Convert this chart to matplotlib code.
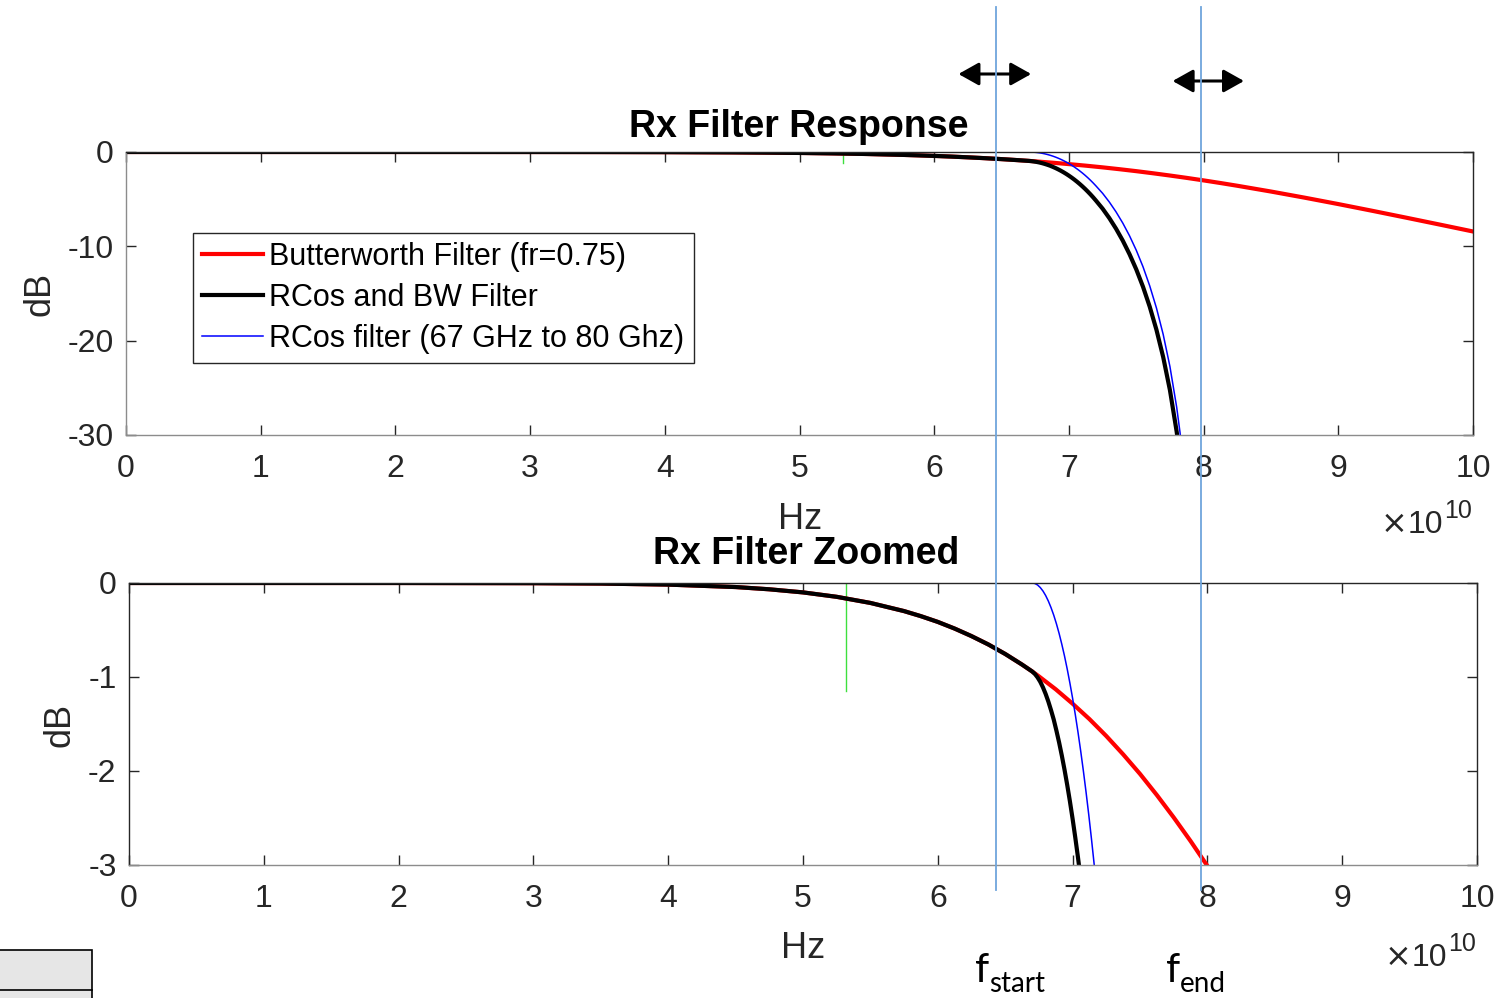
import matplotlib
matplotlib.use('Agg')
import matplotlib.pyplot as plt
import matplotlib.transforms as mtransforms
from matplotlib.patches import Rectangle
from matplotlib.lines import Line2D

plt.rcParams['font.family'] = ['Liberation Sans', 'DejaVu Sans']
plt.rcParams['axes.unicode_minus'] = False

W, H = 1499, 998

# frequencies in units of 1e10 Hz, responses in dB
bw_freq = [0, 1, 2, 3, 3.5, 4, 4.5, 4.75, 5, 5.25, 5.5, 5.75, 5.875, 6, 6.125,
           6.25, 6.375, 6.5, 6.625, 6.7, 6.75, 6.875, 7, 7.125, 7.25, 7.375,
           7.5, 7.625, 7.75, 7.875, 8, 8.125, 8.25, 8.5, 8.75, 9, 9.25, 9.5,
           9.75, 10]
bw_db = [0, 0, -0.0001, -0.002, -0.006, -0.017, -0.043, -0.067, -0.10, -0.147,
         -0.212, -0.299, -0.353, -0.414, -0.485, -0.565, -0.654, -0.755, -0.868,
         -0.941, -0.993, -1.131, -1.284, -1.448, -1.628, -1.823, -2.031, -2.256,
         -2.494, -2.745, -3.010, -3.288, -3.578, -4.190, -4.841, -5.521, -6.227,
         -6.951, -7.685, -8.426]

rcos_freq = [0, 6.70, 6.72, 6.74, 6.76, 6.78, 6.80, 6.82, 6.84, 6.86, 6.88,
             6.90, 6.92, 6.94, 6.96, 6.98, 7.00, 7.02, 7.04, 7.06, 7.08, 7.10,
             7.12, 7.14, 7.16, 7.18, 7.20, 7.25, 7.30, 7.35, 7.40, 7.45, 7.50,
             7.55, 7.60, 7.65, 7.70, 7.75, 7.80, 7.825, 7.85]
rcos_db = [0, 0, -0.005, -0.021, -0.048, -0.085, -0.133, -0.192, -0.262, -0.342,
           -0.434, -0.537, -0.652, -0.777, -0.915, -1.065, -1.226, -1.400,
           -1.587, -1.787, -2.000, -2.227, -2.467, -2.723, -2.993, -3.280,
           -3.582, -4.376, -5.301, -6.349, -7.534, -8.880, -10.41, -12.16,
           -14.19, -16.54, -19.34, -22.74, -27.04, -29.74, -33.02]

comb_freq = [0, 1, 2, 3, 3.5, 4, 4.5, 4.75, 5, 5.25, 5.5, 5.75, 5.875, 6,
             6.125, 6.25, 6.375, 6.5, 6.625, 6.70, 6.72, 6.74, 6.76, 6.78, 6.80,
             6.82, 6.84, 6.86, 6.88, 6.90, 6.92, 6.94, 6.96, 6.98, 7.00, 7.02,
             7.04, 7.06, 7.08, 7.10, 7.12, 7.14, 7.16, 7.18, 7.20, 7.25, 7.30,
             7.35, 7.40, 7.45, 7.50, 7.55, 7.60, 7.65, 7.70, 7.75, 7.80, 7.825,
             7.85]
comb_db = [0, 0, -0.0001, -0.002, -0.006, -0.017, -0.043, -0.067, -0.10,
           -0.147, -0.212, -0.299, -0.353, -0.414, -0.485, -0.565, -0.654,
           -0.755, -0.868, -0.941, -0.967, -1.004, -1.051, -1.110, -1.180,
           -1.261, -1.353, -1.453, -1.571, -1.697, -1.836, -1.986, -2.148,
           -2.322, -2.509, -2.709, -2.921, -3.147, -3.387, -3.641, -3.909,
           -4.193, -4.491, -4.805, -5.137, -6.004, -7.006, -8.132, -9.397,
           -10.83, -12.44, -14.28, -16.40, -18.85, -21.74, -25.24, -29.64,
           -32.38, -35.72]

marker_freq = [5.32, 5.32]
marker_db = [0, -1.15]

f_start = 6.46
f_end = 7.98

labels = ['Butterworth Filter (fr=0.75)', 'RCos and BW Filter',
          'RCos filter (67 GHz to 80 Ghz)']
x_ticks = list(range(11))
top_yticks = [-30, -20, -10, 0]
bot_yticks = [-3, -2, -1, 0]

vline_color = '#6fa5dc'
axis_color = '#262626'


def fx(px):
    return px / W


def fy(py):
    return 1 - py / H


def hz(vals):
    return [v * 1e10 for v in vals]


def draw_panel(ax, yticks, left_color):
    ax.plot(hz(marker_freq), marker_db, color='#3ee03e', lw=1.0, zorder=1.5)
    l1, = ax.plot(hz(bw_freq), bw_db, color='#ff0000', lw=3.0, zorder=2)
    l2, = ax.plot(hz(comb_freq), comb_db, color='black', lw=3.0, zorder=2.1)
    l3, = ax.plot(hz(rcos_freq), rcos_db, color='#0000ff', lw=1.1, zorder=2.2)
    ax.set_xlim(0, 10e10)
    ax.set_ylim(yticks[0], yticks[-1])
    ax.set_xticks([t * 1e10 for t in x_ticks])
    ax.set_xticklabels([str(t) for t in x_ticks])
    ax.set_yticks(yticks)
    ax.tick_params(direction='in', length=7, width=1.0, colors=axis_color,
                   labelsize=23, top=True, right=True)
    ax.tick_params(axis='x', pad=14)
    ax.tick_params(axis='y', pad=9)
    for side in ['top', 'right']:
        ax.spines[side].set_color(axis_color)
    ax.spines['bottom'].set_color('#8c8c8c')
    ax.spines['left'].set_color(left_color)
    for s in ax.spines.values():
        s.set_linewidth(1.0)
    return [l1, l2, l3]


fig = plt.figure(figsize=(W / 100, H / 100), dpi=100)
ax1 = fig.add_axes([fx(126), fy(435), 1347 / W, 283 / H])
ax2 = fig.add_axes([fx(129), fy(865), 1348 / W, 282 / H])

handles = draw_panel(ax1, top_yticks, '#8c8c8c')
draw_panel(ax2, bot_yticks, axis_color)

leg = ax1.legend(handles, labels, loc='upper left',
                 bbox_to_anchor=(0.0497, 0.714), borderaxespad=0,
                 fontsize=22, handlelength=2.0, handletextpad=0.2,
                 labelspacing=0.36, borderpad=0.3, fancybox=False,
                 framealpha=1)
leg.get_frame().set_edgecolor(axis_color)
leg.get_frame().set_linewidth(1.0)

# titles and axis labels
fig.text(fx(799), fy(137), 'Rx Filter Response', fontsize=27,
         fontweight='bold', ha='center', va='baseline')
fig.text(fx(806), fy(564), 'Rx Filter Zoomed', fontsize=27,
         fontweight='bold', ha='center', va='baseline')
fig.text(fx(800), fy(529), 'Hz', fontsize=26, ha='center', va='baseline',
         color=axis_color)
fig.text(fx(803), fy(958), 'Hz', fontsize=26, ha='center', va='baseline',
         color=axis_color)
fig.text(fx(40), fy(294), 'dB', fontsize=26, rotation=90, ha='center',
         va='center', color=axis_color)
fig.text(fx(60), fy(725), 'dB', fontsize=26, rotation=90, ha='center',
         va='center', color=axis_color)
for xr, yb in [(1443, 533), (1447, 966)]:
    fig.text(fx(xr - 36), fy(yb), '\u00d7', fontsize=23, ha='right',
             va='baseline', color=axis_color, family='DejaVu Sans')
    fig.text(fx(xr), fy(yb), '10', fontsize=23, ha='right',
             va='baseline', color=axis_color)
    fig.text(fx(xr + 1), fy(yb - 15), '10', fontsize=18, ha='left',
             va='baseline', color=axis_color)

# f_start / f_end markers spanning both panels
trans = mtransforms.blended_transform_factory(ax1.transData, fig.transFigure)
for f in [f_start, f_end]:
    fig.add_artist(Line2D([f * 1e10, f * 1e10], [fy(7), fy(890)],
                          transform=trans, color=vline_color, lw=1.3))

arrow_style = '<|-|>,head_length=0.5,head_width=0.28'
for x0, x1, y in [(6.18, 6.72, 74), (7.77, 8.30, 81)]:
    ax1.annotate('', xy=(x1 * 1e10, fy(y)), xytext=(x0 * 1e10, fy(y)),
                 xycoords=trans, textcoords=trans, annotation_clip=False,
                 arrowprops=dict(arrowstyle=arrow_style, mutation_scale=25,
                                 lw=2.2, color='black', shrinkA=0, shrinkB=0))

fig.text(fx(975), fy(982), 'f', fontsize=29, family='Lato', va='baseline')
fig.text(fx(989), fy(992), 'start', fontsize=20, family='Lato',
         va='baseline')
fig.text(fx(1166), fy(982), 'f', fontsize=29, family='Lato', va='baseline')
fig.text(fx(1180), fy(992), 'end', fontsize=20, family='Lato', va='baseline')

# partial grey box at the bottom left corner
fig.add_artist(Rectangle((fx(-2), fy(1000)), fx(94), 50 / H,
                         transform=fig.transFigure, facecolor='#e6e6e6',
                         edgecolor='black', lw=1.2))
fig.add_artist(Line2D([fx(0), fx(92)], [fy(990), fy(990)],
                      transform=fig.transFigure, color='black', lw=1.2))

fig.savefig('out.png', dpi=100)
